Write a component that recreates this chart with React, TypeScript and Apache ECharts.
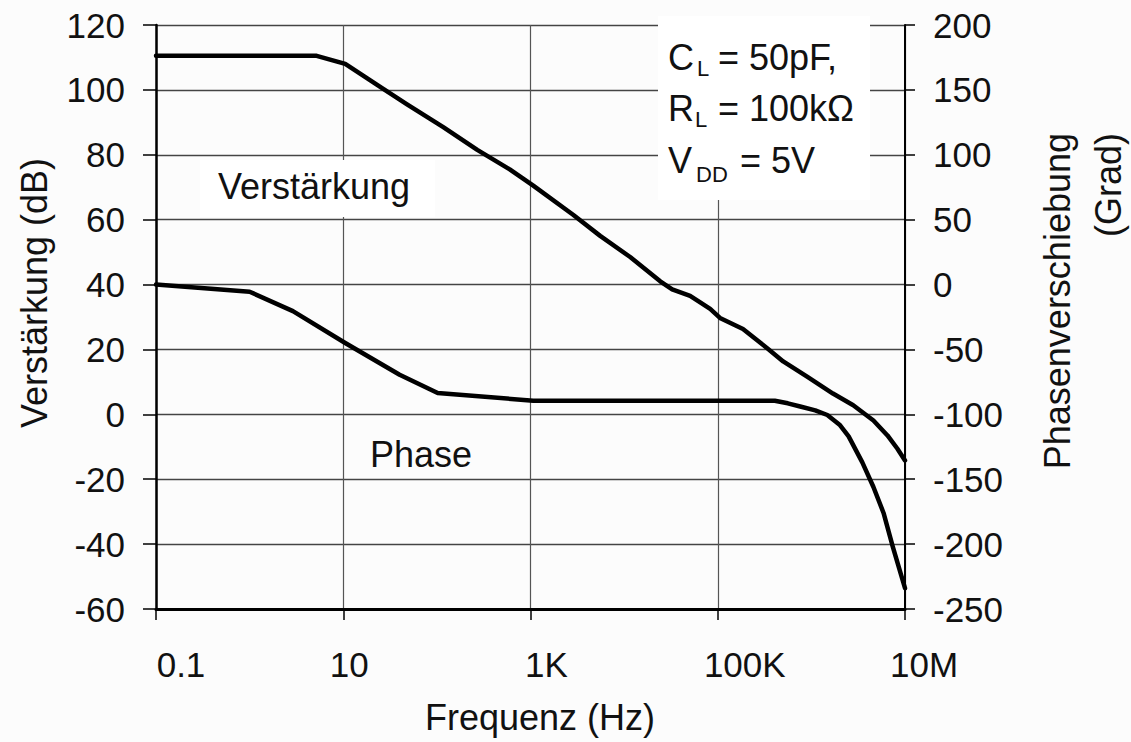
import React, { useEffect, useRef } from "react";
import * as echarts from "echarts";

// ---- Data ----
const xTickLabels = ["0.1", "10", "1K", "100K", "10M"];

// Verstärkung (gain) curve: frequency in Hz, gain in dB
const gainFreqHz = [
  0.1, 5.2, 10.5, 27, 48, 117, 270, 600, 1070, 2850, 5550, 11600, 24300,
  32600, 50700, 64900, 83000, 107000, 186000, 340000, 500000, 900000, 1700000,
  2800000, 4600000, 6500000, 8300000, 10000000,
];
const gainDb = [
  110.5, 110.5, 108, 100.2, 95.5, 88.5, 81.5, 75.5, 70.5, 61.5, 55, 48.5, 41,
  38.5, 36.5, 34.5, 32.5, 29.6, 26.3, 20.3, 16.3, 11.6, 6.4, 2.8, -1.9, -6.5,
  -10.6, -14.2,
];

// Phase curve: frequency in Hz, phase in degrees
const phaseFreqHz = [
  0.1, 1, 2.9, 10.5, 40, 102, 1070, 407000, 560000, 760000, 1100000, 1480000,
  2000000, 2500000, 3500000, 4600000, 5900000, 7400000, 10000000,
];
const phaseDeg = [
  0, -5.5, -20.5, -45, -69.5, -83.5, -89.5, -89.5, -91.5, -94, -97, -100.5,
  -108, -117, -137, -156, -176, -202, -234,
];

// Annotation box: symbol, subscript, value
const condSymbols = ["C", "R", "V"];
const condSubscripts = ["L", "L", "DD"];
const condValues = ["= 50pF,", "= 100kΩ", "= 5V"];

const FONT = "'Liberation Sans', Arial, Helvetica, sans-serif";
const INK = "#111";
// label centre shifts (px*2) to mimic the reference's label placement
const xLabelPad = [50, 12, 32, 54, 38];

// layout of the annotation pieces (pixels)
const condMainY = [57.5, 108.5, 160];
const condSubY = [68.5, 119.5, 174];
const condSubX = [697, 695, 696];
const condValX = [718, 718, 740];

// x is plotted as decades above 0.1 Hz
const toX = (f: number) => Math.log10(f) + 1;

export default function App() {
  const ref = useRef<HTMLDivElement>(null);

  useEffect(() => {
    if (!ref.current) return;
    const chart = echarts.init(ref.current, undefined, { renderer: "svg" });

    const rich: Record<string, any> = {};
    xTickLabels.forEach((_, i) => {
      rich["l" + i] = {
        fontSize: 35,
        fontFamily: FONT,
        color: INK,
        padding: [0, 0, 0, xLabelPad[i]],
      };
    });

    const gainData = gainFreqHz.map((f, i) => [toX(f), gainDb[i]]);
    const phaseData = phaseFreqHz.map((f, i) => [toX(f), phaseDeg[i]]);

    const txt = (x: number, y: number, text: string, size: number) => ({
      type: "text",
      z: 3,
      x,
      y,
      style: {
        text,
        fontSize: size,
        fontFamily: FONT,
        fill: INK,
        align: "left",
        verticalAlign: "middle",
      },
    });

    const condTexts: any[] = [];
    condSymbols.forEach((s, i) => {
      condTexts.push(txt(668, condMainY[i], s, 36));
      condTexts.push(txt(condSubX[i], condSubY[i], condSubscripts[i], 22));
      condTexts.push(txt(condValX[i], condMainY[i], condValues[i], 36));
    });

    const option: any = {
      animation: false,
      backgroundColor: "#fcfcfc",
      grid: {
        left: 156,
        right: 226,
        top: 25,
        bottom: 133,
        outerBoundsMode: "none",
      },
      xAxis: {
        type: "value",
        min: 0,
        max: 8,
        interval: 2,
        position: "bottom",
        name: "Frequenz (Hz)",
        nameLocation: "middle",
        nameGap: 90,
        nameTextStyle: {
          fontSize: 36,
          fontFamily: FONT,
          color: INK,
          padding: [0, 0, 0, 19],
        },
        axisLine: { show: true, onZero: false, lineStyle: { color: "#000", width: 3 } },
        axisTick: { show: true, length: 11, lineStyle: { color: "#000", width: 1.5 } },
        axisLabel: {
          margin: 38,
          showMinLabel: true,
          showMaxLabel: true,
          formatter: (v: number) => {
            const i = Math.round(v / 2);
            return "{l" + i + "|" + xTickLabels[i] + "}";
          },
          rich,
        },
        splitLine: { show: true, lineStyle: { color: "#555", width: 1.2 } },
      },
      yAxis: [
        {
          type: "value",
          min: -60,
          max: 120,
          interval: 20,
          position: "left",
          name: "Verstärkung (dB)",
          nameLocation: "middle",
          nameGap: 104,
          nameTextStyle: {
            fontSize: 36,
            fontFamily: FONT,
            color: INK,
            padding: [0, 0, 0, 48],
          },
          axisLine: { show: true, onZero: false, lineStyle: { color: "#000", width: 2.5 } },
          axisTick: { show: true, length: 13, lineStyle: { color: "#000", width: 1.5 } },
          axisLabel: {
            margin: 31,
            fontSize: 35,
            fontFamily: FONT,
            color: INK,
            showMinLabel: true,
            showMaxLabel: true,
          },
          splitLine: { show: true, lineStyle: { color: "#444", width: 1.3 } },
        },
        {
          type: "value",
          min: -250,
          max: 200,
          interval: 50,
          position: "right",
          axisLine: { show: true, onZero: false, lineStyle: { color: "#000", width: 2 } },
          axisTick: { show: true, length: 10, lineStyle: { color: "#000", width: 1.5 } },
          axisLabel: {
            margin: 28,
            fontSize: 35,
            fontFamily: FONT,
            color: INK,
            showMinLabel: true,
            showMaxLabel: true,
          },
          splitLine: { show: false },
        },
      ],
      series: [
        {
          name: "Verstärkung",
          type: "line",
          yAxisIndex: 0,
          data: gainData,
          showSymbol: false,
          symbol: "none",
          lineStyle: { color: "#000", width: 4.5, join: "round", cap: "round" },
          z: 4,
        },
        {
          name: "Phase",
          type: "line",
          yAxisIndex: 1,
          data: phaseData,
          showSymbol: false,
          symbol: "none",
          lineStyle: { color: "#000", width: 4.5, join: "round", cap: "round" },
          z: 4,
        },
      ],
      graphic: [
        {
          type: "rect",
          z: 1,
          shape: { x: 658, y: 16, width: 212, height: 184 },
          style: { fill: "#ffffff" },
        },
        {
          type: "rect",
          z: 1,
          shape: { x: 200, y: 160, width: 235, height: 57 },
          style: { fill: "#ffffff" },
        },
        txt(218, 186, "Verstärkung", 36),
        txt(370, 454, "Phase", 36),
        ...condTexts,
        {
          type: "text",
          z: 3,
          x: 1032,
          y: 133,
          rotation: Math.PI / 2,
          style: {
            text: "Phasenverschiebung\n(Grad)",
            fontSize: 36,
            fontFamily: FONT,
            fill: INK,
            align: "right",
            verticalAlign: "top",
            lineHeight: 51,
          },
        },
      ],
    };

    chart.setOption(option);
    return () => chart.dispose();
  }, []);

  return (
    <div
      ref={ref}
      style={{ position: "fixed", left: 0, top: 0, width: 1131, height: 742 }}
    />
  );
}
